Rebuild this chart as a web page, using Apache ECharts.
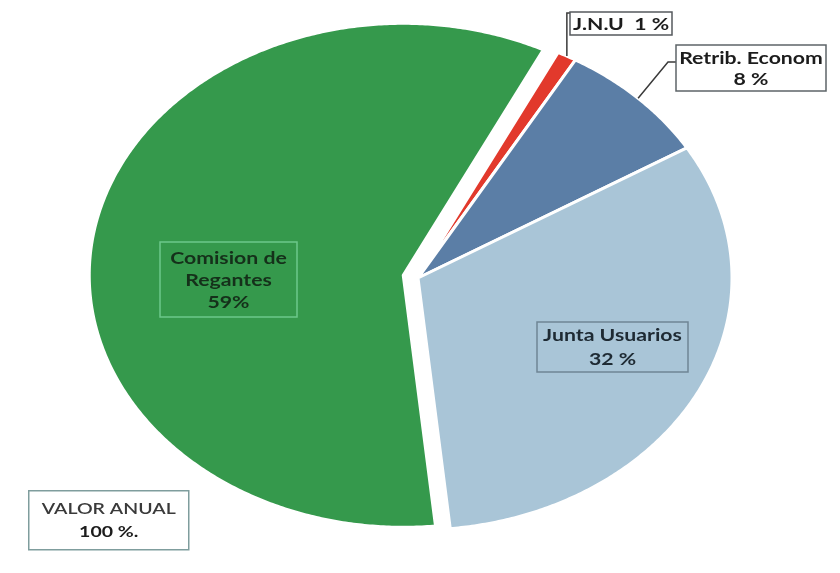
<!DOCTYPE html>
<html>
<head>
<meta charset="utf-8">
<script src="https://cdn.jsdelivr.net/npm/echarts@6/dist/echarts.min.js"></script>
<style>
  html, body { margin: 0; padding: 0; background: #ffffff; }
  #chart { width: 840px; height: 573px; }
</style>
</head>
<body>
<div id="chart"></div>
<script>
// Distribución del valor anual (%)
const categories = ['J.N.U', 'Retrib. Econom', 'Junta Usuarios', 'Comision de Regantes'];
const shares = [1, 8, 32, 59];
const labelTemplates = [
  'J.N.U  {v} %',
  'Retrib. Econom\n{v} %',
  'Junta Usuarios\n{v} %',
  'Comision de\nRegantes\n{v}%'
];
const totalTemplate = ['VALOR ANUAL', '{v} %.'];

// colours of the slices
const sliceColors = ['#e2392c', '#5b7ea6', '#a9c5d7', '#35994c'];

// tilted (elliptical) pie geometry, angles clockwise from 12 o'clock
const PIE = { cx: 418, cy: 278, rx: 314, ry: 252, startDeg: 26.5 };
const explodePx = [0, 0, 0, 15];
// the labels are set in a wide, horizontally stretched face
const TEXT_STRETCH = 1.25;

// label boxes: callouts use a leader line from the arc midpoint
const labelLayout = [
  { box: [570, 12, 102, 23], leader: (p) => [p, [p[0], 13], [570, 13]], lineHeight: 20,
    fill: '#ffffff', stroke: '#555a5e', color: '#1c1c1c' },
  { box: [676, 45, 150, 46], leader: (p) => [p, [668, 62], [676, 62]], lineHeight: 21,
    fill: '#ffffff', stroke: '#5d6468', color: '#1c1c1c' },
  { box: [537, 322, 151, 50], lineHeight: 24,
    fill: 'rgba(0,0,0,0)', stroke: '#6f8595', color: '#1e2a33' },
  { box: [160, 242, 137, 75], lineHeight: 22,
    fill: 'rgba(0,0,0,0)', stroke: '#6cc88a', color: '#15301a' }
];

const total = shares.reduce((a, b) => a + b, 0);
const sliceStart = [];
shares.reduce((acc, v, i) => { sliceStart[i] = acc; return acc + v / total * 360; }, PIE.startDeg);

const rad = (d) => d * Math.PI / 180;

function renderSlice(params, api) {
  const i = params.dataIndex;
  const a0 = sliceStart[i];
  const a1 = a0 + api.value(1) / total * 360;
  const mid = (a0 + a1) / 2;
  const cx = PIE.cx + explodePx[i] * Math.sin(rad(mid));
  const cy = PIE.cy - explodePx[i] * Math.cos(rad(mid));
  const pts = [[cx, cy]];
  const n = Math.max(2, Math.ceil((a1 - a0) * 2));
  for (let k = 0; k <= n; k++) {
    const a = rad(a0 + (a1 - a0) * k / n);
    pts.push([cx + PIE.rx * Math.sin(a), cy - PIE.ry * Math.cos(a)]);
  }
  const children = [{
    type: 'polygon',
    shape: { points: pts },
    style: { fill: sliceColors[i], stroke: '#ffffff', lineWidth: 3, lineJoin: 'round' }
  }];

  const lay = labelLayout[i];
  const [bx, by, bw, bh] = lay.box;
  if (lay.leader) {
    const edge = [cx + PIE.rx * Math.sin(rad(mid)), cy - PIE.ry * Math.cos(rad(mid))];
    children.push({
      type: 'polyline',
      shape: { points: lay.leader(edge) },
      style: { fill: null, stroke: '#3a3a3a', lineWidth: 1.5 },
      z2: 5
    });
  }
  children.push({
    type: 'rect',
    shape: { x: bx, y: by, width: bw, height: bh },
    style: { fill: lay.fill, stroke: lay.stroke, lineWidth: 1.5 },
    z2: 6
  });
  children.push({
    type: 'text',
    x: bx + bw / 2,
    y: by + bh / 2 + 1,
    scaleX: TEXT_STRETCH,
    style: {
      text: labelTemplates[i].replace('{v}', api.value(1)),
      font: 'bold 17px Lato, "Open Sans", sans-serif',
      fill: lay.color,
      align: 'center',
      verticalAlign: 'middle',
      lineHeight: lay.lineHeight
    },
    z2: 7
  });
  return { type: 'group', children };
}

const chart = echarts.init(document.getElementById('chart'), null, { renderer: 'canvas' });
chart.setOption({
  backgroundColor: '#ffffff',
  animation: false,
  series: [{
    type: 'custom',
    name: 'Valor anual',
    coordinateSystem: 'none',
    renderItem: renderSlice,
    data: shares.map((v, i) => ({ name: categories[i], value: [i, v] }))
  }],
  graphic: [{
    type: 'group',
    left: 28,
    top: 490,
    children: [
      {
        type: 'rect',
        shape: { x: 0, y: 0, width: 160, height: 59 },
        style: { fill: '#ffffff', stroke: '#7f9d9d', lineWidth: 1.5 }
      },
      {
        type: 'text',
        x: 80,
        y: 30,
        scaleX: 1.3,
        style: {
          text: '{a|' + totalTemplate[0] + '}\n{b|' + totalTemplate[1].replace('{v}', total) + '}',
          align: 'center',
          verticalAlign: 'middle',
          rich: {
            a: { font: '600 15px Lato, "Open Sans", sans-serif', fill: '#3a3a3a', lineHeight: 23, align: 'center' },
            b: { font: 'bold 15px Lato, "Open Sans", sans-serif', fill: '#1c1c1c', lineHeight: 23, align: 'center' }
          }
        }
      }
    ]
  }]
});
</script>
</body>
</html>
